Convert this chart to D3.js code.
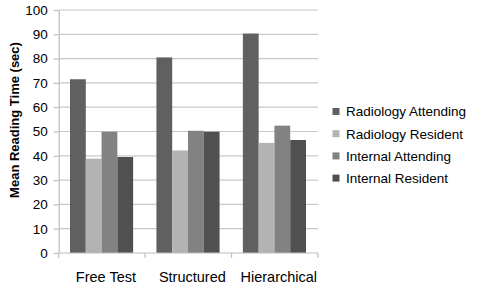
<!DOCTYPE html>
<html><head><meta charset="utf-8">
<script src="https://cdn.jsdelivr.net/npm/d3@7"></script>
<style>body{margin:0;background:#fff}svg{display:block}text{font-family:"Liberation Sans",Arial,sans-serif}</style>
</head><body><svg id="c" width="478" height="284"></svg>
<script>
const categories = ["Free Test", "Structured", "Hierarchical"];
const seriesNames = ["Radiology Attending", "Radiology Resident", "Internal Attending", "Internal Resident"];
const radiologyAttending = [71.5, 80.5, 90.3];
const radiologyResident = [38.8, 42.2, 45.3];
const internalAttending = [49.9, 50.3, 52.4];
const internalResident = [39.5, 49.9, 46.5];
const yTicks = [0,10,20,30,40,50,60,70,80,90,100];
const colors = ["#606060", "#b3b3b3", "#828282", "#505050"];

const series = [radiologyAttending, radiologyResident, internalAttending, internalResident];
const svg = d3.select("#c");
const L = 58.7, R = 318, T = 10, B = 253;
const x = d3.scaleBand().domain(categories).range([L, R]).paddingInner(0).paddingOuter(0);
const xi = d3.scaleBand().domain(seriesNames).range([11.3, x.bandwidth() - 12]).padding(0);
const y = d3.scaleLinear().domain([0, 100]).range([B, T]);

// gridlines
svg.append("g").selectAll("line").data(yTicks.filter(d => d > 0)).join("line")
  .attr("x1", L).attr("x2", R).attr("y1", d => y(d)).attr("y2", d => y(d))
  .attr("stroke", "#c8c8c8").attr("stroke-width", 1.2);

// y axis
const ya = svg.append("g").attr("transform", `translate(${L},0)`)
  .call(d3.axisLeft(y).tickValues(yTicks).tickSize(5).tickSizeOuter(0).tickPadding(6));
ya.select(".domain").attr("stroke", "#bdbdbd").attr("stroke-width", 1.2);
ya.selectAll(".tick line").attr("stroke", "#bdbdbd").attr("stroke-width", 1.2);
ya.selectAll("text").attr("font-size", 13.5).attr("fill", "#000")
  .attr("font-family", '"Liberation Sans",Arial,sans-serif');

// bars
const g = svg.append("g");
categories.forEach((c, ci) => {
  series.forEach((s, si) => {
    g.append("rect")
      .attr("x", x(c) + xi(seriesNames[si]))
      .attr("width", xi.bandwidth())
      .attr("y", y(s[ci]))
      .attr("height", y(0) - y(s[ci]))
      .attr("fill", colors[si]);
  });
});

// x axis
const xa = svg.append("g").attr("transform", `translate(0,${B})`);
xa.append("line").attr("x1", L).attr("x2", R).attr("stroke", "#bdbdbd").attr("stroke-width", 1.2);
xa.selectAll(".tk").data([L, ...categories.map(c => x(c) + x.bandwidth())]).join("line")
  .attr("x1", d => d).attr("x2", d => d).attr("y1", 0).attr("y2", 5)
  .attr("stroke", "#bdbdbd").attr("stroke-width", 1.2);
xa.selectAll("text").data(categories).join("text")
  .attr("x", d => x(d) + x.bandwidth() / 2 + 4).attr("y", 28.8)
  .attr("text-anchor", "middle").attr("font-size", 14.5).text(d => d);

// y title
svg.append("text").attr("transform", `translate(18.5,120) rotate(-90)`)
  .attr("text-anchor", "middle").attr("font-size", 13).attr("font-weight", "bold")
  .text("Mean Reading Time (sec)");

// legend
const lg = svg.append("g");
seriesNames.forEach((n, i) => {
  const cy = 111.5 + i * 22.2;
  lg.append("rect").attr("x", 332.5).attr("y", cy - 3.5).attr("width", 7).attr("height", 7).attr("fill", colors[i]);
  lg.append("text").attr("x", 346).attr("y", cy + 4.8).attr("font-size", 13.5).text(n);
});
</script></body></html>
